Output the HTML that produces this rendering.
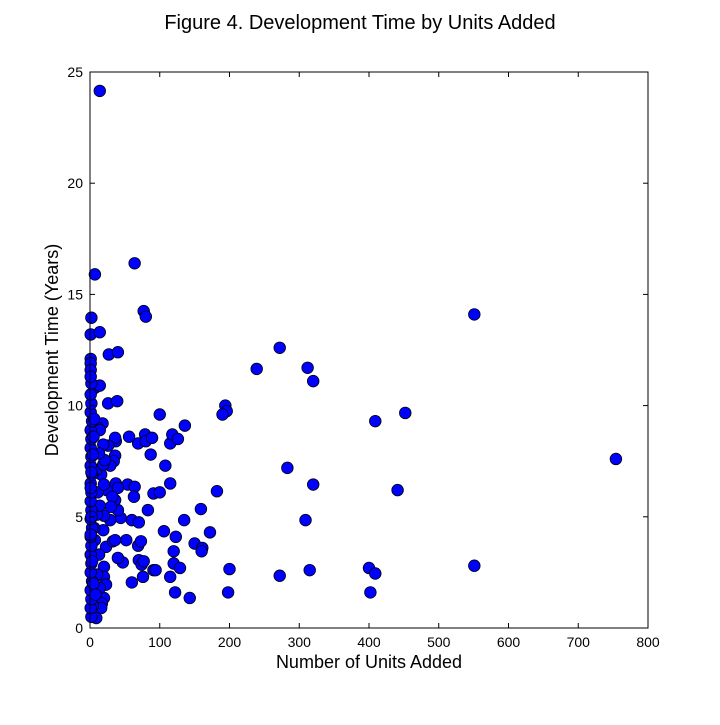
<!DOCTYPE html>
<html><head><meta charset="utf-8"><style>
body{margin:0;background:#fff;}
svg text{font-family:"Liberation Sans",sans-serif;fill:#000;}
</style></head><body>
<svg id="chart" width="720" height="720" xmlns="http://www.w3.org/2000/svg">
<rect width="720" height="720" fill="#fff"/>
<text x="360" y="29" font-size="20" text-anchor="middle">Figure 4. Development Time by Units Added</text>
<g id="points"></g>
<rect x="90" y="72" width="558" height="556" fill="none" stroke="#000" stroke-width="1"/>
<g id="ticks"></g>
<text x="369" y="668" font-size="18" text-anchor="middle">Number of Units Added</text>
<text transform="translate(58,350) rotate(-90)" font-size="18" text-anchor="middle">Development Time (Years)</text>
</svg>
<script>
const xTicks=[0,100,200,300,400,500,600,700,800];
const yTicks=[0,5,10,15,20,25];
const unitsAdded=[14,7,64,77,80,2,1,14,272,551,27,40,239,312,320,1,1,1,7,14,26,39,452,409,194,196,190,100,136,18,11,754,283,320,441,309,551,400,409,402,315,272,200,198,182,172,159,150,161,160,135,123,120,120,129,143,122,115,106,108,115,115,118,126,87,83,91,100,69,79,80,89,56,54,64,63,60,70,69,73,70,74,77,76,91,94,60,52,47,40,44,40,36,37,40,37,36,36,34,29,26,19,24,32,30,29,20,19,23,33,36,20,20,20,17,16,23,9,4,14,10,13,7,6,10,14,11,16,9,19,21,13,14,20,2,1,2,1,3,1,2,1,2,1,3,1,2,1,2,1,3,1,2,1,2,1,3,1,2,1,2,1,3,1,2,1,2,4,5,6,5,8,6,4,7,8];
const devYears=[24.15,15.9,16.4,14.25,14.0,13.95,13.2,13.3,12.6,14.1,12.3,12.4,11.65,11.7,11.1,12.1,11.9,11.6,10.8,10.9,10.1,10.2,9.67,9.3,10.0,9.75,9.6,9.6,9.1,9.2,9.0,7.6,7.2,6.45,6.2,4.85,2.8,2.7,2.45,1.6,2.6,2.35,2.65,1.6,6.15,4.3,5.35,3.8,3.6,3.45,4.85,4.1,3.45,2.9,2.7,1.35,1.6,2.3,4.35,7.3,6.5,8.3,8.7,8.5,7.8,5.3,6.05,6.1,8.3,8.7,8.4,8.55,8.6,6.45,6.35,5.9,4.85,4.75,3.7,3.9,3.05,2.85,3.0,2.3,2.6,2.6,2.05,3.95,2.95,3.15,4.95,5.3,5.75,6.5,6.3,8.4,8.55,7.75,7.5,7.3,8.2,8.25,6.2,5.9,5.45,4.85,5.05,4.4,3.65,3.9,3.95,2.75,2.3,1.35,1.1,0.9,1.95,0.45,1.0,1.8,2.4,3.3,3.95,4.5,5.1,5.5,6.1,6.9,7.1,7.35,7.55,7.85,8.9,6.45,0.5,0.9,1.3,1.7,2.1,2.5,2.9,3.3,3.7,4.1,4.5,4.9,5.3,5.7,6.1,6.5,6.9,7.3,7.7,8.1,8.5,8.9,9.3,9.7,10.1,10.5,11.0,11.3,3.0,4.2,5.0,6.3,7.0,7.8,8.6,9.4,2.0,1.5];
const X0=90,X1=648,Y0=628,Y1=72;
const xs=v=>X0+(v-0)/(800-0)*(X1-X0);
const ys=v=>Y0-(v-0)/(25-0)*(Y0-Y1);
const NS="http://www.w3.org/2000/svg";
const pg=document.getElementById('points');
const n=Math.min(unitsAdded.length,devYears.length);
for(let i=0;i<n;i++){
 const c=document.createElementNS(NS,'circle');
 c.setAttribute('cx',xs(unitsAdded[i]));c.setAttribute('cy',ys(devYears[i]));c.setAttribute('r',5.8);
 c.setAttribute('fill','#0000ff');c.setAttribute('stroke','#000');c.setAttribute('stroke-width','0.8');
 
 
 pg.appendChild(c);
}
const tg=document.getElementById('ticks');
function ln(x1,y1,x2,y2){const l=document.createElementNS(NS,'line');l.setAttribute('x1',x1);l.setAttribute('y1',y1);l.setAttribute('x2',x2);l.setAttribute('y2',y2);l.setAttribute('stroke','#000');tg.appendChild(l);}
function tx(x,y,s,a){const t=document.createElementNS(NS,'text');t.setAttribute('x',x);t.setAttribute('y',y);t.setAttribute('font-size','14');t.setAttribute('text-anchor',a);t.textContent=s;
 
 
 tg.appendChild(t);}
xTicks.forEach(v=>{const x=xs(v);ln(x,Y0,x,Y0-5);ln(x,Y1,x,Y1+5);tx(x,Y0+19,String(v),'middle');});
yTicks.forEach(v=>{const y=ys(v);ln(X0,y,X0+5,y);ln(X1,y,X1-5,y);tx(X0-7,y+5,String(v),'end');});
</script>
</body></html>
